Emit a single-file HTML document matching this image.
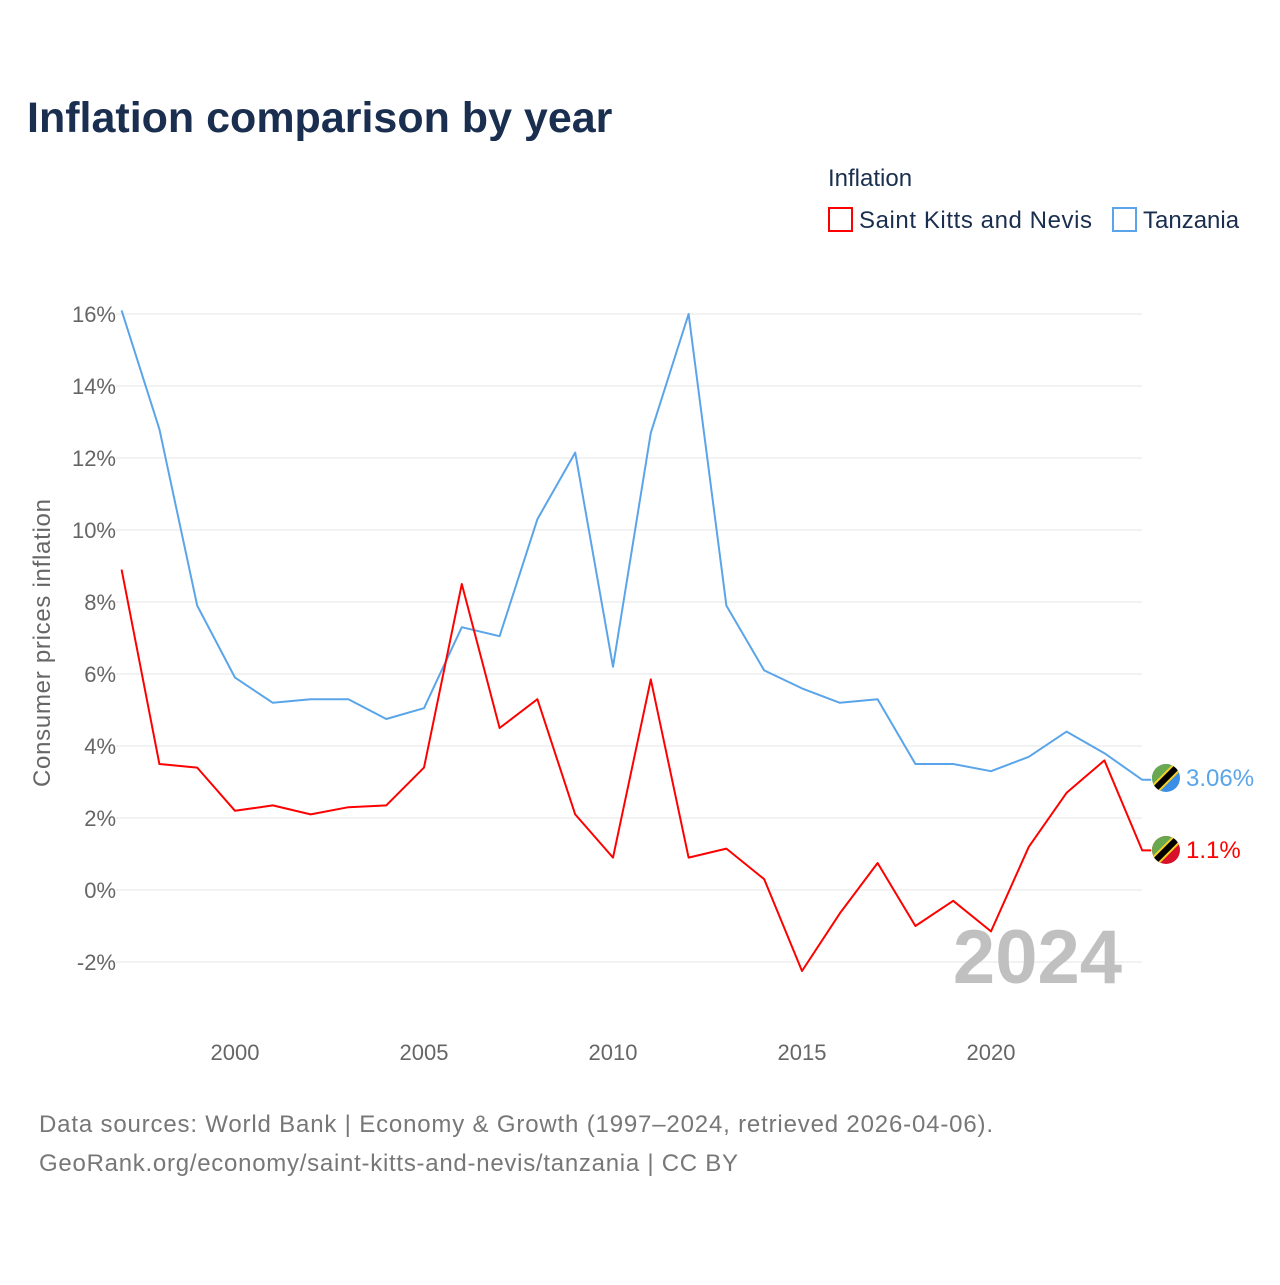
<!DOCTYPE html>
<html><head><meta charset="utf-8"><style>
body{margin:0;background:#fff;font-family:"Liberation Sans",sans-serif;}
svg text{font-family:"Liberation Sans",sans-serif;}
</style></head><body>
<svg id="c" width="1280" height="1280" xmlns="http://www.w3.org/2000/svg">
<defs>
<clipPath id="f1"><circle cx="1166" cy="778" r="14"/></clipPath>
<clipPath id="f2"><circle cx="1166" cy="850" r="14"/></clipPath>
</defs>
<text x="27" y="132" font-size="43" font-weight="bold" fill="#1a2e4f">Inflation comparison by year</text>
<text x="828" y="186" font-size="24" fill="#1a2e4f">Inflation</text>
<g><rect x="829" y="208" width="23" height="23" fill="none" stroke="#ff0000" stroke-width="2"/><text x="859" y="228" font-size="24" fill="#1a2e4f" textLength="233">Saint Kitts and Nevis</text></g>
<g><rect x="1113" y="208" width="23" height="23" fill="none" stroke="#5aa5ea" stroke-width="2"/><text x="1143" y="228" font-size="24" fill="#1a2e4f">Tanzania</text></g>
<g id="grid"></g><g id="yt"></g><g id="xt"></g>
<text x="1122" y="983" font-size="76" font-weight="bold" fill="#c0c0c0" text-anchor="end">2024</text>
<g id="lines"></g>
<text transform="translate(50,643) rotate(-90)" font-size="24" fill="#666" text-anchor="middle" textLength="288">Consumer prices inflation</text>
<g clip-path="url(#f1)"><rect x="1150" y="762" width="32" height="32" fill="#3a8ee6"/><polygon points="1150,762 1182,762 1150,794" fill="#6aa84f"/><line x1="1150" y1="794" x2="1182" y2="762" stroke="#f5d020" stroke-width="10"/><line x1="1150" y1="794" x2="1182" y2="762" stroke="#000" stroke-width="6"/></g>
<g clip-path="url(#f2)"><rect x="1150" y="834" width="32" height="32" fill="#d9102a"/><polygon points="1150,834 1182,834 1150,866" fill="#6aa84f"/><line x1="1150" y1="866" x2="1182" y2="834" stroke="#f5d020" stroke-width="10"/><line x1="1150" y1="866" x2="1182" y2="834" stroke="#000" stroke-width="6"/></g>
<text x="1186" y="786" font-size="24" fill="#5aa5ea">3.06%</text>
<text x="1186" y="858" font-size="24" fill="#ff0000">1.1%</text>
<text x="39" y="1132" font-size="24" fill="#777" textLength="954">Data sources: World Bank | Economy &amp; Growth (1997–2024, retrieved 2026-04-06).</text>
<text x="39" y="1171" font-size="24" fill="#777" textLength="699">GeoRank.org/economy/saint-kitts-and-nevis/tanzania | CC BY</text>
</svg>
<script>
const years=[1997,1998,1999,2000,2001,2002,2003,2004,2005,2006,2007,2008,2009,2010,2011,2012,2013,2014,2015,2016,2017,2018,2019,2020,2021,2022,2023,2024];
const tanzania=[16.1,12.8,7.9,5.9,5.2,5.3,5.3,4.75,5.05,7.3,7.05,10.3,12.15,6.2,12.7,16.0,7.9,6.1,5.6,5.2,5.3,3.5,3.5,3.3,3.7,4.4,3.8,3.06];
const skn=[8.9,3.5,3.4,2.2,2.35,2.1,2.3,2.35,3.4,8.5,4.5,5.3,2.1,0.9,5.85,0.9,1.15,0.3,-2.25,-0.65,0.75,-1.0,-0.3,-1.15,1.2,2.7,3.6,1.1];
const yTicks=[-2,0,2,4,6,8,10,12,14,16];
const xTicks=[2000,2005,2010,2015,2020];
const NS="http://www.w3.org/2000/svg";
const X=y=>121.6+(y-1997)*37.8;
const Y=v=>890-36*v;
function mk(tag,at,parent){const e=document.createElementNS(NS,tag);for(const k in at)e.setAttribute(k,at[k]);document.getElementById(parent).appendChild(e);return e;}
yTicks.forEach(t=>{
 const l=mk('line',{x1:116,x2:1142,y1:Y(t),y2:Y(t),stroke:'#e6e6e6','stroke-width':1},'grid');
 
 
 const tx=mk('text',{x:116,y:Y(t)+8,'font-size':22,fill:'#666','text-anchor':'end'},'yt');
 tx.textContent=t+'%';
 
 
});
xTicks.forEach(t=>{
 const tx=mk('text',{x:X(t),y:1060,'font-size':22,fill:'#666','text-anchor':'middle'},'xt');
 tx.textContent=t;
 
 
});
function line(vals,color,name){
 let p=vals.map((v,i)=>X(years[i]).toFixed(1)+','+Y(v).toFixed(1));
 p.push((X(years[years.length-1])+9)+','+Y(vals[vals.length-1]).toFixed(1));
 const pl=mk('polyline',{points:p.join(' '),fill:'none',stroke:color,'stroke-width':2,'stroke-linejoin':'round'},'lines');
 
 
}
line(tanzania,'#5aa5ea','tanzania-line');
line(skn,'#ff0000','saint-kitts-line');
</script>
</body></html>
